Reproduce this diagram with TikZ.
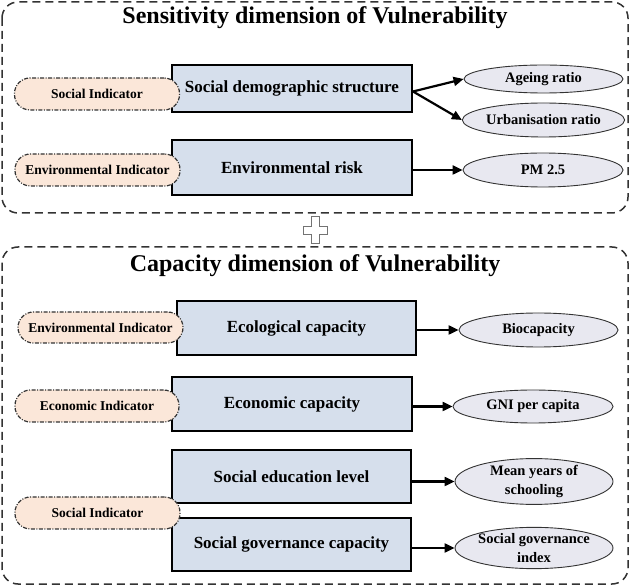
\documentclass[tikz,border=0pt]{standalone}
\usepackage{fontspec}
\setmainfont{Liberation Serif}
\usetikzlibrary{arrows.meta,shapes.geometric}
\definecolor{boxfill}{HTML}{D6DFEC}
\definecolor{pillfill}{HTML}{FBE7D9}
\definecolor{ellfill}{HTML}{E8E8F0}
\definecolor{pillline}{HTML}{333333}
\tikzset{
  frame/.style={draw=black!80, line width=1.5pt, dash pattern=on 8pt off 5pt, rounded corners=16pt},
  titletext/.style={font=\fontsize{24}{28}\selectfont\bfseries, inner sep=0pt},
  mainbox/.style={draw=black, line width=2pt, fill=boxfill, rectangle, inner sep=2pt,
    font=\fontsize{17}{20}\selectfont\bfseries, align=center},
  pill/.style={draw=pillline, line width=1.2pt, fill=pillfill, rectangle, rounded corners=15.5pt,
    dash pattern=on 4pt off 1.5pt on 1pt off 1.5pt, minimum width=165pt, minimum height=32pt,
    font=\fontsize{13.5}{16}\selectfont\bfseries, inner sep=1pt},
  leaf/.style={draw=black!80, line width=0.9pt, fill=ellfill, ellipse, inner sep=0pt,
    font=\fontsize{14.5}{19}\selectfont\bfseries, align=center},
  link/.style={draw=black, line width=2.2pt, -{Triangle[length=10pt,width=9pt]}},
}
\begin{document}
\begin{tikzpicture}[x=1pt,y=-1pt]
\useasboundingbox (0,0) rectangle (630,585);
% frames
\draw[frame] (2,2) rectangle (628,213);
\draw[frame] (2,247) rectangle (628,584);
\node[titletext] (t1) at (315,18) {Sensitivity dimension of Vulnerability};
\node[titletext] (t2) at (315,266) {Capacity dimension of Vulnerability};
% plus sign
\draw[draw=black!55, fill=white, line width=0.8pt]
  (311,216) -- (319,216) -- (319,226) -- (327,226) -- (327,234) -- (319,234) -- (319,243)
  -- (311,243) -- (311,234) -- (303,234) -- (303,226) -- (311,226) -- cycle;
% boxes
\node[mainbox, minimum width=240pt, minimum height=47pt] (sds) at (292,88.5) {Social demographic structure};
\node[mainbox, minimum width=240pt, minimum height=55pt] (env) at (292,168) {Environmental risk};
\node[mainbox, minimum width=239pt, minimum height=54pt] (eco) at (296.5,328.5) {Ecological capacity};
\node[mainbox, minimum width=240pt, minimum height=54pt] (econ) at (292,404) {Economic capacity};
\node[mainbox, minimum width=239pt, minimum height=53pt] (edu) at (291.5,476.5) {Social education level};
\node[mainbox, minimum width=239pt, minimum height=53pt] (gov) at (291.5,544.5) {Social governance capacity};
% pills
\node[pill] (p1) at (97,94) {Social Indicator};
\node[pill] (p2) at (97.5,170) {Environmental Indicator};
\node[pill, minimum height=31pt] (p3) at (100.5,327.5) {Environmental Indicator};
\node[pill, minimum width=164pt] (p4) at (97,406) {Economic Indicator};
\node[pill] (p5) at (97.5,513) {Social Indicator};
% leaves
\node[leaf, minimum width=159pt, minimum height=28pt] (e1) at (543.5,79) {Ageing ratio};
\node[leaf, minimum width=159pt, minimum height=34pt] (e2) at (543.5,120) {Urbanisation ratio};
\node[leaf, minimum width=160pt, minimum height=34pt] (e3) at (543,170) {PM 2.5};
\node[leaf, minimum width=159pt, minimum height=34pt] (e4) at (538.5,330) {Biocapacity};
\node[leaf, minimum width=160pt, minimum height=33pt] (e5) at (533,406.5) {GNI per capita};
\node[leaf, minimum width=158pt, minimum height=43pt] (e6) at (534,481.5) {Mean years of\\schooling};
\node[leaf, minimum width=158pt, minimum height=40pt] (e7) at (534,548) {Social governance\\index};
% links
\draw[link] ([yshift=-3pt]sds.east) -- (e1.west);
\draw[link] ([yshift=-3pt]sds.east) -- (e2.west);
\draw[link] (env.east |- e3.west) -- (e3.west);
\draw[link] (eco.east |- e4.west) -- (e4.west);
\draw[link] (econ.east |- e5.west) -- (e5.west);
\draw[link] (edu.east |- e6.west) -- (e6.west);
\draw[link] (gov.east |- e7.west) -- (e7.west);
\end{tikzpicture}
\end{document}
